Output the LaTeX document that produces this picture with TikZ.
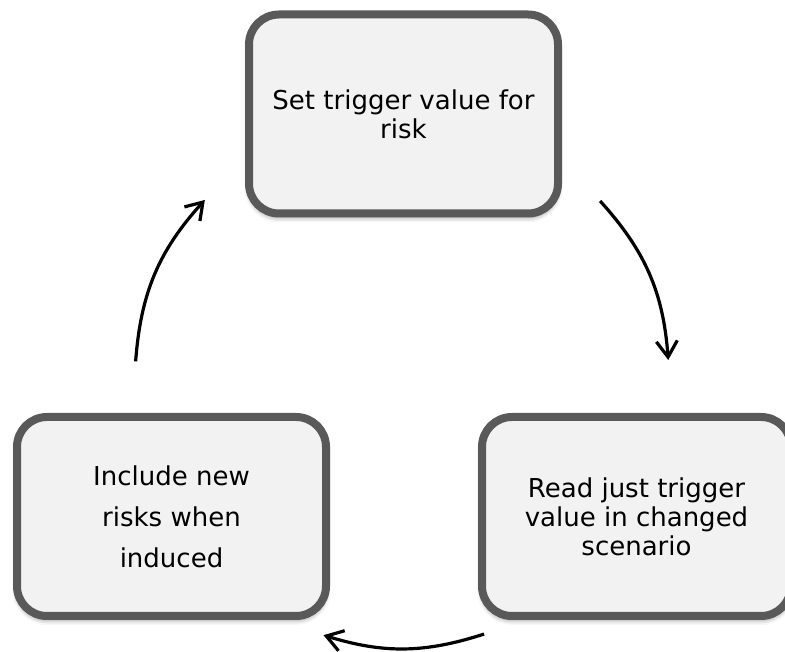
\documentclass[tikz,border=0pt]{standalone}
\usepackage{fontspec}
\setmainfont{DejaVu Sans}
\usetikzlibrary{arrows.meta,shadows.blur}
\definecolor{boxfill}{RGB}{242,242,242}
\definecolor{boxline}{RGB}{89,89,89}
\tikzset{
  stepbox/.style={draw=boxline, fill=boxfill, line width=8pt, rounded corners=30pt,
    minimum width=309pt, minimum height=199pt, align=center, inner sep=0pt,
    font=\fontsize{26}{29}\selectfont,
    blur shadow={shadow xshift=0pt, shadow yshift=-4pt, shadow blur radius=5pt, shadow opacity=45}},
  cyclearrow/.style={line width=3.2pt, -{Straight Barb[length=16pt,width=21pt]}}
}
\begin{document}
\begin{tikzpicture}[x=1pt,y=1pt]
\useasboundingbox (0,0) rectangle (785,652);
\clip (0,0) rectangle (785,652);
\node[stepbox] (set) at (403.5,538) {Set trigger value for\\risk};
\node[stepbox, font=\fontsize{26}{41}\selectfont] (incl) at (171.5,135.5) {Include new\\risks when\\induced};
\node[stepbox] (read) at (636.5,135.5) {Read just trigger\\value in changed\\scenario};
\coordinate (c) at (402,272);
\coordinate (l1) at ($(c)+(176:267)$);
\coordinate (l2) at ($(c)+(137.6:267)$);
\coordinate (r1) at ($(c)+(42.1:267)$);
\coordinate (r2) at ($(c)+(4.3:267)$);
\coordinate (b1) at ($(c)+(-72.1:267)$);
\coordinate (b2) at ($(c)+(-107.1:267)$);
\draw[cyclearrow] (l1) to[bend left=19] (l2);
\draw[cyclearrow] (r1) to[bend left=19] (r2);
\draw[cyclearrow] (b1) to[bend left=17.5] (b2);
\end{tikzpicture}
\end{document}
